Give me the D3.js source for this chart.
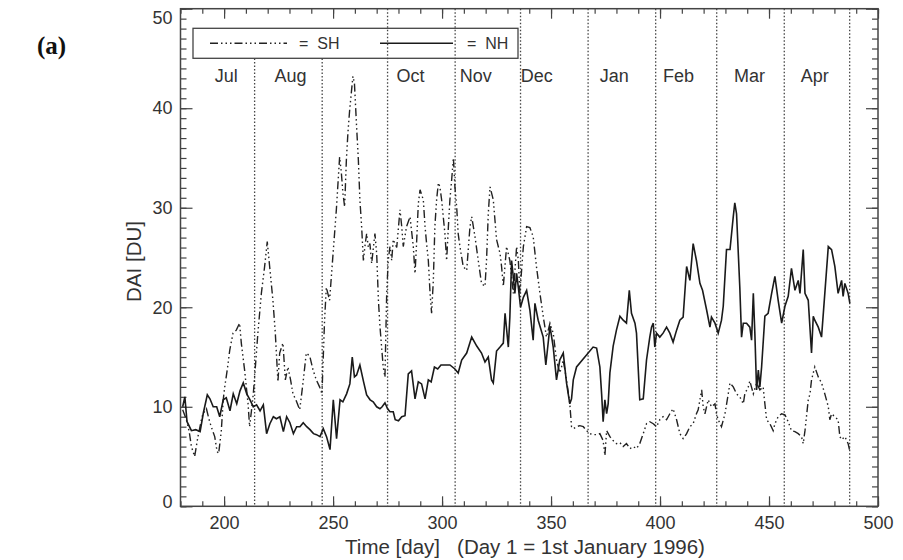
<!doctype html>
<html>

<head>
    <meta charset="utf-8">
    <title>DAI SH / NH</title>
    <script type="text/javascript" src="https://cdn.jsdelivr.net/npm/d3@7"></script>
    <style type="text/css">
        html,
        body {
            margin: 0;
            padding: 0;
            background: #fff;
        }

        #svg svg {
            display: block;
        }

        text {
            font-family: "Liberation Sans", Arial, sans-serif;
            fill: #333;
        }
    </style>

    <script type="text/javascript">
        // [day, DAI]
        var nh = [[181,10.0],[182,11.0],[183,8.5],[185,7.6],[187,7.7],[189,7.5],[190.5,9.4],[192.3,11.2],[193.5,10.8],[195,10.0],[196.6,10.0],[198,9.0],[199.6,10.7],[201,10.9],[202.7,9.6],[204.2,11.3],[205.8,10.3],[207.3,11.6],[208.8,12.4],[210.4,11.3],[211.9,10.7],[213.4,10.0],[214.9,10.2],[216.5,9.6],[218,10.2],[219.5,7.3],[221,8.3],[222.6,9.0],[224,8.8],[225.6,9.0],[227.2,7.5],[228.7,9.0],[230.2,8.4],[231.8,7.3],[233.3,8.0],[234.8,8.0],[236.3,8.4],[237.9,8.0],[239.4,7.7],[241,7.3],[242.4,7.2],[244,7.0],[245.5,7.8],[247,7.0],[248.6,5.7],[250.1,10.7],[251.6,6.8],[253.2,10.7],[254.5,10.5],[256.2,11.3],[257.7,12.3],[258.8,15.0],[259.8,13.0],[260.8,13.2],[262.3,14.2],[264,12.5],[265.4,11.2],[267,10.7],[268.4,10.5],[270,10.0],[271.5,9.8],[272.5,10.0],[273.8,10.4],[275,9.8],[276.1,9.5],[277.6,9.5],[278.5,8.7],[280,8.6],[281.5,9.0],[283,9.1],[284.5,13.3],[286,13.6],[287.6,10.8],[289.1,12.5],[290.6,12.3],[292.2,10.8],[293.7,12.7],[295,12.5],[296.5,14.0],[298,13.8],[299.5,14.2],[301.3,14.2],[303.6,14.2],[305.9,13.8],[307.4,13.4],[309,14.7],[311.3,15.4],[313.6,17.0],[315.9,16.1],[318.1,15.4],[319.7,14.5],[321.2,15.0],[322.7,12.7],[323.5,12.4],[325,15.6],[326.6,16.0],[328.1,16.4],[328.9,19.4],[330.4,16.0],[331.1,19.0],[331.9,24.7],[332.7,23.0],[333.4,21.4],[334.2,23.4],[335,22.0],[336,20.0],[337.3,21.0],[338.8,21.7],[340.3,19.7],[341.8,16.7],[342.6,20.4],[344.1,18.7],[346.4,17.0],[347.6,14.2],[349.5,18.1],[351,16.0],[352.5,12.7],[354,14.7],[355.6,15.4],[357.1,12.4],[358.6,10.3],[359.4,10.8],[360.2,12.7],[361.7,14.0],[369.3,16.0],[370.9,15.9],[372.4,14.0],[373.2,11.3],[373.9,8.5],[374.7,10.7],[375.5,9.3],[376.2,10.3],[377,13.4],[378.5,16.1],[380,17.7],[381.6,19.1],[383.1,18.7],[384.6,18.4],[385.9,21.7],[386.9,19.4],[388.5,18.4],[389.2,17.4],[390.7,10.7],[392.3,10.8],[393.8,14.7],[395.3,17.0],[396.1,18.0],[396.9,18.4],[397.6,16.0],[398.4,17.4],[399.9,17.0],[401.4,17.4],[403,18.0],[404.5,17.4],[406,16.5],[407.6,17.7],[409.1,18.7],[410.6,19.0],[412.2,24.1],[413.7,22.7],[415.2,26.4],[416.7,24.7],[418.3,22.4],[419.5,21.7],[421.4,19.7],[422.9,18.0],[423.6,19.0],[425.2,18.4],[426.7,17.4],[428.2,18.7],[429,20.1],[430.5,25.8],[432.1,25.8],[433.6,29.1],[434.3,30.5],[435.1,29.4],[436.6,22.0],[437.4,17.0],[438.2,18.4],[439.7,18.4],[441.2,18.0],[442,16.7],[442.8,21.4],[443.5,17.4],[444.3,11.7],[445.1,13.7],[445.8,12.0],[446.6,14.0],[448.1,19.1],[449.6,19.4],[451.2,21.4],[452.7,23.1],[454.2,20.7],[455.8,18.4],[457.3,20.1],[458.8,21.1],[460.3,23.9],[461.9,21.7],[463.4,22.7],[464.2,21.4],[465.7,25.8],[466.5,21.4],[468,20.7],[469.5,15.4],[470.3,19.1],[471,18.7],[472.6,18.0],[474.1,17.0],[475.6,21.4],[477.2,26.1],[478.7,25.8],[480.2,24.1],[481.7,21.4],[483.3,22.7],[484,21.1],[484.8,22.4],[486.3,21.4],[487.1,20.4]]

        var sh = [[181,9.7],[182.7,8.7],[184,7.5],[185,6.0],[186.5,5.0],[188,7.0],[189.5,8.6],[190.3,9.3],[191.9,9.8],[193,8.8],[194.1,8.0],[195.7,7.0],[196.8,5.5],[197.5,5.3],[198.7,7.5],[199.6,10.7],[200.3,12.0],[201.5,13.8],[202.6,15.7],[204.1,17.4],[205.6,17.7],[207.1,18.4],[207.9,16.4],[209.4,13.7],[211,10.3],[211.7,8.0],[212.5,9.5],[213.4,11.3],[214,13.0],[215.5,17.4],[217.1,21.4],[218.6,24.1],[219.8,26.6],[220.9,24.1],[222.4,20.7],[223.5,17.4],[224.7,12.5],[225.5,15.4],[227,16.4],[228.1,12.7],[229.3,14.0],[230.5,12.7],[231.6,11.3],[233.1,10.6],[234.7,9.7],[236.2,12.4],[237.7,15.4],[239.3,15.1],[240.8,13.7],[242.3,12.7],[243.8,12.0],[244.9,11.3],[246.1,18.7],[246.9,22.0],[247.7,21.3],[248.4,20.7],[250,25.4],[251.5,29.8],[253,35.1],[253.8,33.5],[254.5,31.5],[255.3,30.1],[256.1,34.8],[256.8,37.5],[257.6,39.8],[259.1,43.2],[259.8,42.5],[260.8,38.1],[261.6,34.8],[262.3,30.8],[263.1,28.1],[263.9,24.7],[264.6,26.1],[265.4,27.4],[266.2,26.0],[266.9,26.4],[267.7,24.4],[269.2,27.4],[270,25.4],[270.8,20.7],[271.5,18.1],[273,14.0],[273.8,13.0],[274.6,21.4],[275.3,24.7],[276.1,26.1],[276.9,24.7],[277.6,26.8],[279.2,26.0],[280.7,29.8],[281.5,28.1],[282.2,26.1],[283.7,28.1],[285.3,29.1],[286.8,26.1],[287.6,23.4],[288.3,26.4],[289.1,30.4],[289.9,31.8],[291.4,30.8],[292.2,28.1],[292.9,26.4],[293.7,24.7],[294.5,21.4],[295.2,19.4],[296,22.7],[296.7,28.1],[297.5,30.8],[298.3,32.5],[299,32.1],[299.8,30.8],[301.3,27.4],[302.1,24.7],[302.9,28.1],[303.6,30.8],[304.4,32.8],[305.2,35.0],[305.9,32.1],[306.7,30.1],[307.4,27.4],[308.2,26.1],[309.7,24.1],[311.3,23.7],[312.8,28.1],[313.6,29.1],[315.1,27.1],[316.6,24.7],[318.1,22.4],[319.7,22.1],[320.4,24.7],[321.2,29.4],[322,32.1],[323.5,30.8],[325,26.8],[326.6,25.4],[327.3,24.1],[328.1,22.1],[329.6,26.1],[331.1,24.7],[332.7,21.4],[334.2,26.1],[335,24.7],[335.7,21.4],[337.3,26.1],[338.8,28.1],[340.3,28.0],[341.8,27.1],[343.3,24.1],[344.9,21.4],[346.4,19.1],[347.9,17.0],[349.5,18.4],[351,17.4],[352.5,14.7],[354,13.4],[354.8,14.0],[355.6,14.7],[357.1,12.7],[358.6,10.3],[359.4,8.0],[360.2,7.8],[361.7,8.0],[363.2,8.1],[364.8,8.0],[366.3,7.6],[367.8,7.3],[369.3,7.2],[370.9,7.2],[372.4,7.3],[373.9,6.6],[374.7,5.1],[375.5,7.6],[377,7.0],[378.5,6.6],[380,6.3],[381.6,6.4],[383.1,6.0],[384.6,6.3],[386.2,5.8],[387.7,6.0],[389.2,5.8],[390.7,6.3],[392.3,7.3],[393.8,8.3],[395.3,8.5],[396.9,8.3],[398.4,8.0],[399.9,8.7],[401.4,9.0],[403,8.7],[404.5,9.3],[406,9.8],[407.6,8.7],[409.1,7.3],[410.6,6.8],[412.2,7.3],[413.7,8.0],[415.2,8.3],[416.7,9.3],[417.5,9.7],[419.1,11.7],[419.8,10.0],[420.6,9.3],[422.1,10.7],[423.6,10.0],[425.2,10.3],[425.9,9.3],[426.7,8.7],[428.2,8.0],[429.8,9.3],[431.3,11.3],[432.1,12.4],[433.6,12.0],[435.1,11.3],[436.6,11.0],[438.2,10.3],[438.9,11.3],[440.5,12.0],[441.2,12.6],[442.8,11.3],[444.3,12.4],[445.8,11.7],[447.3,12.0],[448.1,10.3],[448.9,8.7],[450.4,8.3],[451.9,7.6],[452.7,8.3],[454.2,9.0],[455.8,9.3],[457.3,9.2],[458.8,8.5],[460.3,7.6],[461.9,7.5],[463.4,7.3],[464.9,7.0],[465.7,6.3],[466.5,7.6],[468,10.7],[468.8,11.3],[469.5,12.7],[470.3,13.4],[471,14.0],[472.6,13.0],[474.1,12.4],[475.6,11.3],[477.2,10.0],[477.9,8.7],[478.7,9.3],[480.2,9.0],[481.7,8.7],[482.5,7.0],[483.3,6.7],[484.8,7.0],[486.3,6.3],[487.1,5.5]]

        // first day of each month (Aug 1996 .. May 1997)
        var monthStarts = [214, 245, 275, 306, 336, 367, 398, 426, 457, 487]
        var monthNames = ["Jul", "Aug", "Oct", "Nov", "Dec", "Jan", "Feb", "Mar", "Apr"]
        var monthLabelDays = [201, 230.5, 285.5, 315.5, 343.5, 379, 408.5, 441, 471]

        var xTicks = [200, 250, 300, 350, 400, 450, 500]
        var yTicks = [0, 10, 20, 30, 40, 50]

        document.addEventListener("DOMContentLoaded", function (event) {

            var svg = d3.select("#svg")
                .append("svg")
                .attr("width", 903)
                .attr("height", 560)

            var x = d3.scaleLinear().domain([180, 500]).range([180.5, 878])
            var y = d3.scaleLinear().domain([0, 50]).range([506.3, 8.7])

            var left = x.range()[0], right = x.range()[1]
            var top = y.range()[1], bottom = y.range()[0]

            function tidy(g) {
                g.select(".domain").remove()
                g.selectAll("line").attr("stroke", "#444").attr("stroke-width", 1.2)
                g.attr("font-size", 18)
                g.selectAll("text").attr("fill", "#333")
            }

            // legend box (drawn first, the Oct/Nov dotted lines cross it)
            var legend = svg.append("g")
            legend.append("rect")
                .attr("x", 193).attr("y", 28.3)
                .attr("width", 325).attr("height", 30)
                .attr("fill", "#fff")
                .attr("stroke", "#444")
                .attr("stroke-width", 1.3)

            // month boundaries; the first two stop under the legend
            svg.append("g")
                .selectAll("line")
                .data(monthStarts)
                .join("line")
                .attr("x1", d => x(d)).attr("x2", d => x(d))
                .attr("y1", d => d < 260 ? y(45) : top)
                .attr("y2", bottom)
                .attr("stroke", "#444")
                .attr("stroke-width", 1.3)
                .attr("stroke-dasharray", "1.5,2")

            // month names
            svg.append("g")
                .selectAll("text")
                .data(monthNames)
                .join("text")
                .attr("x", (d, i) => x(monthLabelDays[i]))
                .attr("y", 82)
                .attr("text-anchor", "middle")
                .attr("font-size", 18)
                .text(d => d)

            // axes, ticks pointing inward
            svg.append("g")
                .attr("transform", "translate(0," + bottom + ")")
                .call(d3.axisBottom(x).tickValues(d3.range(180, 501, 10)).tickSize(-5).tickFormat(""))
                .call(tidy)
            svg.append("g")
                .attr("transform", "translate(0," + bottom + ")")
                .call(d3.axisBottom(x).tickValues(xTicks).tickSize(-10).tickPadding(10))
                .call(tidy)
            svg.append("g")
                .attr("transform", "translate(0," + top + ")")
                .call(d3.axisTop(x).tickValues(d3.range(180, 501, 10)).tickSize(-5).tickFormat(""))
                .call(tidy)
            svg.append("g")
                .attr("transform", "translate(0," + top + ")")
                .call(d3.axisTop(x).tickValues(xTicks).tickSize(-10).tickFormat(""))
                .call(tidy)

            svg.append("g")
                .attr("transform", "translate(" + left + ",0)")
                .call(d3.axisLeft(y).tickValues(d3.range(0, 51, 1)).tickSize(-6).tickFormat(""))
                .call(tidy)
            var yAxis = svg.append("g")
                .attr("transform", "translate(" + left + ",0)")
                .call(d3.axisLeft(y).tickValues(yTicks).tickSize(-12).tickPadding(8))
                .call(tidy)
            // end labels sit a little inside the frame
            yAxis.selectAll(".tick text")
                .filter(d => d == 50).attr("dy", "0.8em")
            yAxis.selectAll(".tick text")
                .filter(d => d == 0).attr("dy", "0.05em")

            svg.append("g")
                .attr("transform", "translate(" + right + ",0)")
                .call(d3.axisRight(y).tickValues(d3.range(0, 51, 1)).tickSize(-6).tickFormat(""))
                .call(tidy)
            svg.append("g")
                .attr("transform", "translate(" + right + ",0)")
                .call(d3.axisRight(y).tickValues(yTicks).tickSize(-12).tickFormat(""))
                .call(tidy)

            // frame
            svg.append("rect")
                .attr("x", left).attr("y", top)
                .attr("width", right - left).attr("height", bottom - top)
                .attr("fill", "none")
                .attr("stroke", "#444")
                .attr("stroke-width", 1.5)

            // series
            var line = d3.line()
                .x(d => x(d[0]))
                .y(d => y(d[1]))

            svg.append("path")
                .datum(sh)
                .attr("d", line)
                .attr("fill", "none")
                .attr("stroke", "#222")
                .attr("stroke-width", 1.4)
                .attr("stroke-dasharray", "8,3,1.5,3,1.5,3,1.5,3")

            svg.append("path")
                .datum(nh)
                .attr("d", line)
                .attr("fill", "none")
                .attr("stroke", "#1a1a1a")
                .attr("stroke-width", 1.6)

            // legend content
            legend.append("line")
                .attr("x1", 210).attr("x2", 287)
                .attr("y1", 43.3).attr("y2", 43.3)
                .attr("stroke", "#222")
                .attr("stroke-width", 1.4)
                .attr("stroke-dasharray", "8,3,1.5,3,1.5,3,1.5,3")
            legend.append("text")
                .attr("x", 299).attr("y", 49)
                .attr("font-size", 16)
                .style("white-space", "pre")
                .text("=  SH")
            legend.append("line")
                .attr("x1", 380).attr("x2", 453)
                .attr("y1", 43.3).attr("y2", 43.3)
                .attr("stroke", "#1a1a1a")
                .attr("stroke-width", 1.6)
            legend.append("text")
                .attr("x", 467).attr("y", 49)
                .attr("font-size", 16)
                .style("white-space", "pre")
                .text("=  NH")

            // titles
            svg.append("text")
                .attr("x", 525)
                .attr("y", 554)
                .attr("text-anchor", "middle")
                .attr("font-size", 20.5)
                .style("white-space", "pre")
                .text("Time [day]   (Day 1 = 1st January 1996)")

            svg.append("text")
                .attr("transform", "translate(141," + ((top + bottom) / 2 + 4) + ") rotate(-90)")
                .attr("text-anchor", "middle")
                .attr("font-size", 20.5)
                .text("DAI [DU]")

            // panel letter, serif (style so the css rule above does not win)
            svg.append("text")
                .attr("x", 37)
                .attr("y", 54)
                .style("font-family", "'Liberation Serif', 'DejaVu Serif', serif")
                .style("font-weight", "bold")
                .style("fill", "#111")
                .attr("font-size", 25)
                .text("(a)")

        })
    </script>

</head>

<body>
    <div id="svg"></div>
</body>

</html>
